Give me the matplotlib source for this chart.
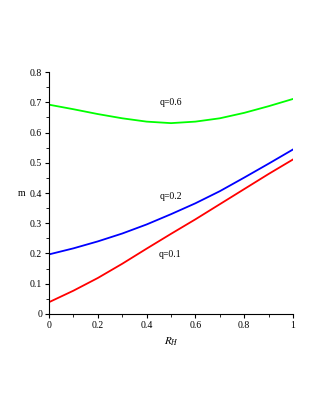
import numpy as np
import matplotlib
matplotlib.use('Agg')
import matplotlib.pyplot as plt
from matplotlib.ticker import MultipleLocator

# values
r_h = [0.0, 0.1, 0.2, 0.3, 0.4, 0.5, 0.6, 0.7, 0.8, 0.9, 1.0]
m_q06 = [0.692, 0.677, 0.661, 0.647, 0.636, 0.631, 0.636, 0.647, 0.665, 0.687, 0.711]
m_q02 = [0.197, 0.217, 0.240, 0.266, 0.296, 0.330, 0.366, 0.406, 0.451, 0.497, 0.544]
m_q01 = [0.039, 0.077, 0.119, 0.166, 0.216, 0.265, 0.313, 0.363, 0.413, 0.463, 0.511]

labels = ['q=0.6', 'q=0.2', 'q=0.1']
label_pos = [(0.455, 0.70), (0.455, 0.388), (0.45, 0.198)]

plt.rcParams['font.family'] = ['Liberation Serif', 'DejaVu Serif']
plt.rcParams['mathtext.fontset'] = 'stix'

fig = plt.figure(figsize=(3.19, 4.12), dpi=100)
ax = fig.add_axes([0.1536, 0.2379, 0.765, 0.5873])

ax.plot(r_h, m_q06, color='#00ff00', lw=1.3)
ax.plot(r_h, m_q02, color='#0000ff', lw=1.3)
ax.plot(r_h, m_q01, color='#ff0000', lw=1.3)

for txt, (x, y) in zip(labels, label_pos):
    ax.text(x, y, txt, fontsize=7, va='center', ha='left')

ax.set_xlim(0, 1)
ax.set_ylim(0, 0.8)
ax.spines['top'].set_visible(False)
ax.spines['right'].set_visible(False)
ax.spines['left'].set_linewidth(0.8)
ax.spines['bottom'].set_linewidth(0.8)

ax.xaxis.set_minor_locator(MultipleLocator(0.1))
ax.yaxis.set_minor_locator(MultipleLocator(0.05))
ax.set_xticks([0, 0.2, 0.4, 0.6, 0.8, 1.0])
ax.set_xticklabels(['0', '0.2', '0.4', '0.6', '0.8', '1'])
ax.set_yticks([0, 0.1, 0.2, 0.3, 0.4, 0.5, 0.6, 0.7, 0.8])
ax.set_yticklabels(['0', '0.1', '0.2', '0.3', '0.4', '0.5', '0.6', '0.7', '0.8'])
ax.tick_params(which='major', length=3, width=0.8, labelsize=7, pad=2)
ax.tick_params(which='minor', length=2, width=0.6)

ax.set_xlabel('$R_H$', fontsize=8, labelpad=4)
ax.set_ylabel('m', fontsize=7, rotation=0, labelpad=6, va='center')

fig.savefig('out.png', dpi=100)
